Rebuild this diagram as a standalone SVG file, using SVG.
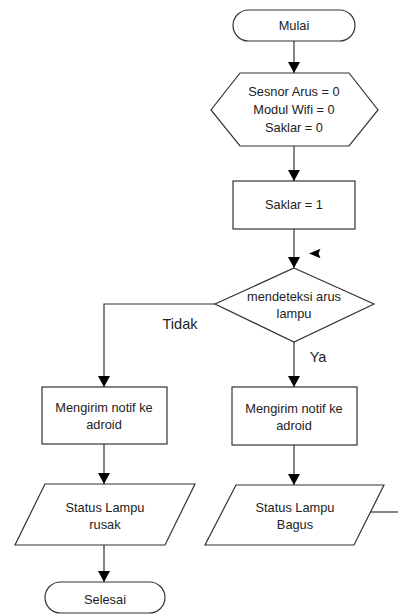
<svg xmlns="http://www.w3.org/2000/svg" width="398" height="615" viewBox="0 0 398 615">
<defs>
<marker id="ah" markerUnits="userSpaceOnUse" markerWidth="12" markerHeight="12" refX="11" refY="6" orient="auto">
<path d="M0,0 L11,6 L0,12 z" fill="#000"/>
</marker>
</defs>
<style>
.s{fill:#fff;stroke:#333;stroke-width:1.2}
.c{fill:none;stroke:#333;stroke-width:1.2}
text{font-family:"Liberation Sans",Arial,sans-serif;font-size:12.8px;fill:#222;text-anchor:middle;dominant-baseline:central}
.l{font-size:14.5px}
</style>
<rect width="398" height="615" fill="#fff"/>
<g id="connectors">
<line class="c" x1="294" y1="41" x2="294" y2="73" marker-end="url(#ah)"/>
<line class="c" x1="294" y1="146" x2="294" y2="181" marker-end="url(#ah)"/>
<line class="c" x1="294" y1="229" x2="294" y2="268" marker-end="url(#ah)"/>
<path class="c" d="M215,304 H104 V387" marker-end="url(#ah)"/>
<line class="c" x1="294" y1="342" x2="294" y2="387" marker-end="url(#ah)"/>
<line class="c" x1="104" y1="444" x2="104" y2="484" marker-end="url(#ah)"/>
<line class="c" x1="294" y1="445" x2="294" y2="485" marker-end="url(#ah)"/>
<line class="c" x1="104" y1="545" x2="104" y2="582" marker-end="url(#ah)"/>
<line class="c" x1="370" y1="512" x2="398" y2="512"/>
<path d="M309,253.5 L320.5,248.8 L318.5,253.5 L320.5,258.2 z" fill="#000"/>
<text class="l" x="180" y="324">Tidak</text>
<text class="l" x="318" y="357">Ya</text>
</g>
<g id="mulai">
<rect class="s" x="233" y="10" width="122" height="31" rx="15.5"/>
<text x="294" y="25.5">Mulai</text>
</g>
<g id="init">
<polygon class="s" points="240,73 349,73 378,110 349,146 240,146 211,110"/>
<text x="294" y="91">Sesnor Arus = 0</text>
<text x="294" y="109">Modul Wifi = 0</text>
<text x="294" y="127">Saklar = 0</text>
</g>
<g id="saklar">
<rect class="s" x="233" y="181" width="122" height="48"/>
<text x="294" y="204">Saklar = 1</text>
</g>
<g id="deteksi">
<polygon class="s" points="294,268 374,304 294,342 215,304"/>
<text x="294" y="296">mendeteksi arus</text>
<text x="294" y="313">lampu</text>
</g>
<g id="kirim1">
<rect class="s" x="42" y="387" width="125" height="57"/>
<text x="104" y="407">Mengirim notif ke</text>
<text x="104" y="424">adroid</text>
</g>
<g id="kirim2">
<rect class="s" x="232" y="387" width="125" height="58"/>
<text x="294" y="408">Mengirim notif ke</text>
<text x="294" y="425">adroid</text>
</g>
<g id="rusak">
<polygon class="s" points="45,484 195,484 165,545 15,545"/>
<text x="105" y="507">Status Lampu</text>
<text x="105" y="524">rusak</text>
</g>
<g id="bagus">
<polygon class="s" points="236,485 384,485 354,545 205,545"/>
<text x="295" y="507">Status Lampu</text>
<text x="295" y="524">Bagus</text>
</g>
<g id="selesai">
<rect class="s" x="45" y="582" width="120" height="31" rx="15.5"/>
<text x="105" y="599">Selesai</text>
</g>
</svg>
